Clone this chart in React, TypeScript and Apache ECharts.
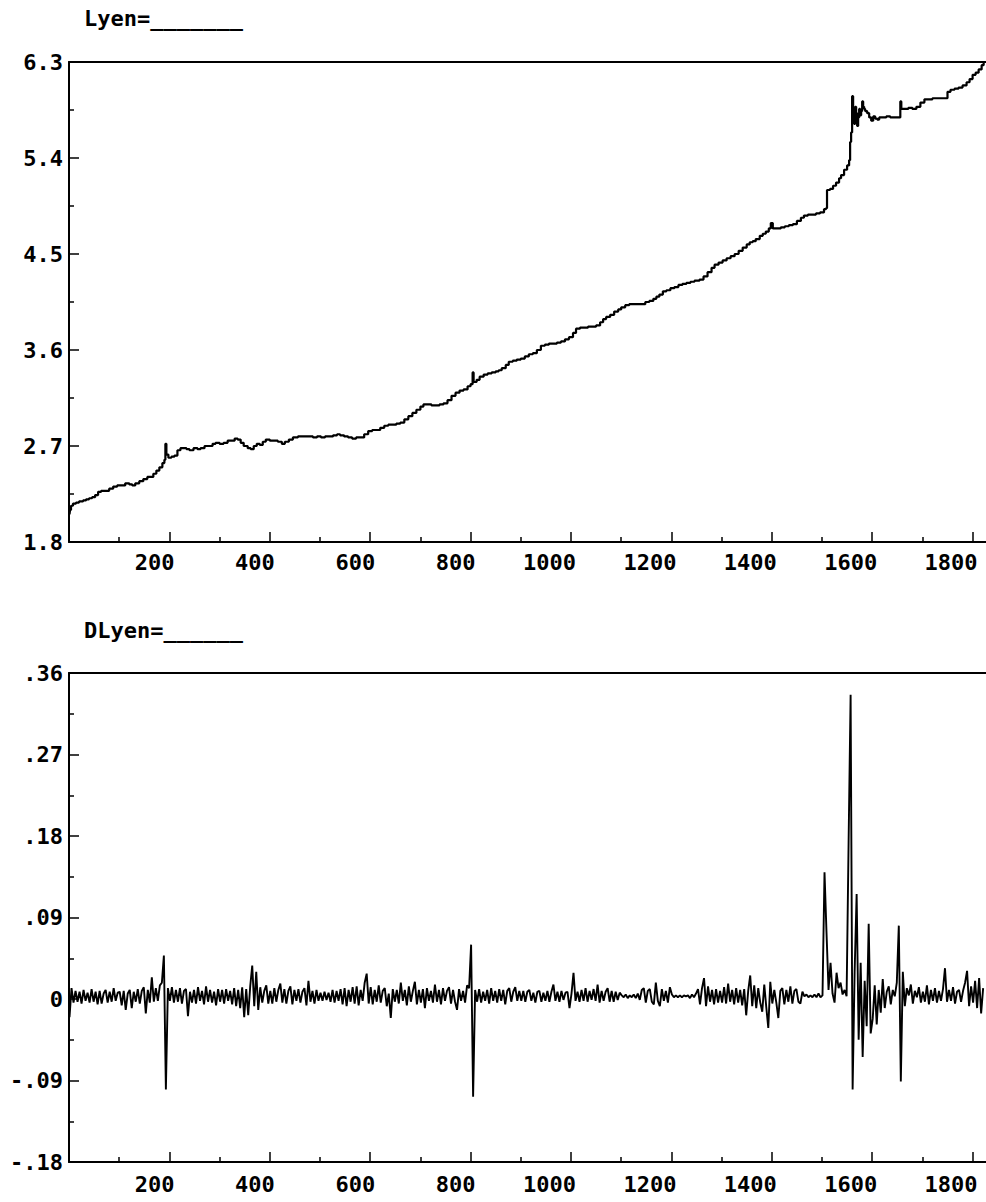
import React, { useEffect, useRef } from "react";
import * as echarts from "echarts";

// Lyen: level series, [observation, value]
const lyen: [number, number][] = [
  [1, 2.06], [2, 2.1], [4, 2.14], [8, 2.16], [14, 2.17], [20, 2.18], [28, 2.19], [34, 2.2],
  [40, 2.21], [46, 2.22], [52, 2.24], [58, 2.27], [64, 2.28], [72, 2.28], [80, 2.3], [88, 2.32],
  [96, 2.33], [104, 2.33], [112, 2.35], [120, 2.34], [126, 2.33], [132, 2.35], [140, 2.37],
  [148, 2.39], [156, 2.41], [162, 2.41], [168, 2.44], [174, 2.47], [180, 2.5], [186, 2.54],
  [190, 2.57], [192, 2.72], [194, 2.62], [198, 2.59], [204, 2.6], [210, 2.61], [216, 2.66],
  [222, 2.68], [228, 2.68], [234, 2.67], [240, 2.66], [248, 2.68], [256, 2.67], [262, 2.68],
  [270, 2.7], [278, 2.7], [286, 2.72], [292, 2.73], [300, 2.72], [308, 2.73], [316, 2.75],
  [324, 2.75], [330, 2.77], [336, 2.76], [342, 2.73], [348, 2.7], [356, 2.68], [362, 2.67],
  [368, 2.7], [374, 2.72], [380, 2.71], [386, 2.74], [392, 2.76], [400, 2.75], [408, 2.75],
  [416, 2.74], [424, 2.72], [430, 2.74], [438, 2.76], [446, 2.78], [456, 2.79], [466, 2.79],
  [476, 2.79], [486, 2.78], [494, 2.79], [502, 2.78], [510, 2.79], [518, 2.79], [526, 2.8],
  [534, 2.81], [540, 2.8], [548, 2.79], [556, 2.78], [564, 2.77], [572, 2.78], [580, 2.78],
  [588, 2.81], [596, 2.84], [604, 2.85], [612, 2.85], [620, 2.87], [628, 2.89], [636, 2.9],
  [644, 2.9], [652, 2.91], [660, 2.92], [668, 2.95], [676, 2.98], [684, 3.01], [692, 3.04],
  [700, 3.07], [706, 3.09], [714, 3.09], [722, 3.08], [730, 3.08], [738, 3.09], [746, 3.1],
  [754, 3.13], [762, 3.17], [770, 3.2], [778, 3.22], [786, 3.23], [794, 3.26], [800, 3.28],
  [804, 3.39], [806, 3.3], [812, 3.32], [818, 3.35], [826, 3.37], [834, 3.38], [842, 3.39],
  [850, 3.4], [856, 3.41], [862, 3.43], [870, 3.46], [876, 3.49], [884, 3.5], [892, 3.51],
  [900, 3.52], [908, 3.54], [916, 3.56], [924, 3.57], [932, 3.6], [940, 3.64], [948, 3.65],
  [956, 3.66], [964, 3.66], [972, 3.67], [980, 3.68], [988, 3.7], [996, 3.72], [1004, 3.76],
  [1010, 3.8], [1018, 3.81], [1026, 3.81], [1034, 3.82], [1042, 3.82], [1050, 3.83],
  [1058, 3.86], [1064, 3.89], [1070, 3.91], [1078, 3.93], [1086, 3.96], [1094, 3.98],
  [1100, 4.0], [1108, 4.02], [1116, 4.03], [1124, 4.03], [1132, 4.03], [1140, 4.03],
  [1148, 4.05], [1156, 4.06], [1164, 4.08], [1170, 4.1], [1176, 4.12], [1183, 4.15],
  [1190, 4.16], [1198, 4.18], [1206, 4.19], [1214, 4.21], [1222, 4.22], [1230, 4.23],
  [1238, 4.24], [1246, 4.25], [1256, 4.26], [1264, 4.29], [1272, 4.33], [1280, 4.37],
  [1286, 4.4], [1294, 4.42], [1302, 4.44], [1310, 4.46], [1318, 4.48], [1326, 4.5],
  [1334, 4.53], [1342, 4.56], [1350, 4.59], [1356, 4.61], [1362, 4.62], [1368, 4.64],
  [1376, 4.67], [1382, 4.69], [1388, 4.71], [1394, 4.74], [1398, 4.79], [1402, 4.74],
  [1410, 4.74], [1418, 4.75], [1426, 4.76], [1434, 4.77], [1442, 4.78], [1450, 4.81],
  [1458, 4.84], [1464, 4.86], [1472, 4.87], [1480, 4.87], [1488, 4.88], [1496, 4.89],
  [1504, 4.92], [1508, 4.93], [1510, 5.1], [1516, 5.11], [1522, 5.14], [1528, 5.17],
  [1534, 5.21], [1538, 5.24], [1544, 5.29], [1550, 5.33], [1554, 5.38], [1556, 5.55],
  [1558, 5.64], [1560, 5.98], [1562, 5.8], [1564, 5.72], [1566, 5.88], [1568, 5.82],
  [1570, 5.7], [1572, 5.78], [1574, 5.86], [1576, 5.8], [1578, 5.84], [1580, 5.93],
  [1582, 5.88], [1584, 5.86], [1586, 5.84], [1590, 5.82], [1594, 5.78], [1598, 5.75],
  [1602, 5.79], [1606, 5.77], [1610, 5.76], [1614, 5.78], [1620, 5.78], [1628, 5.79],
  [1636, 5.78], [1644, 5.78], [1652, 5.78], [1656, 5.93], [1658, 5.86], [1664, 5.86],
  [1672, 5.87], [1680, 5.86], [1688, 5.88], [1696, 5.92], [1704, 5.95], [1712, 5.95],
  [1720, 5.96], [1728, 5.96], [1736, 5.96], [1744, 5.96], [1750, 6.02], [1756, 6.04],
  [1764, 6.05], [1772, 6.06], [1780, 6.08], [1788, 6.11], [1794, 6.14], [1800, 6.18],
  [1806, 6.2], [1812, 6.23], [1818, 6.27], [1822, 6.3],
];

// DLyen: first differences, one value every DLYEN_STEP observations starting at DLYEN_FIRST
const DLYEN_FIRST = 1;
const DLYEN_STEP = 4;
const dlyen: number[] = [
  // 1 - 97
  -0.020, 0.012, -0.004, 0.009, -0.003, 0.008, -0.005, 0.010, -0.002, 0.007, -0.004, 0.011, -0.003,
  0.008, -0.006, 0.009, -0.005, 0.006, 0.010, -0.004, 0.008, -0.003, 0.012, -0.002, 0.007,
  // 101 - 197
  0.008, -0.007, 0.009, -0.012, 0.006, 0.010, -0.010, 0.008, -0.003, 0.011, -0.005, 0.009, 0.013,
  -0.016, 0.010, -0.004, 0.024, -0.003, 0.012, -0.002, 0.015, 0.018, 0.048, -0.100, 0.012,
  // 201 - 297
  -0.002, 0.013, -0.004, 0.010, -0.003, 0.012, -0.005, 0.009, 0.011, -0.019, 0.008, -0.004, 0.010,
  -0.005, 0.013, -0.002, 0.009, -0.006, 0.014, -0.003, 0.010, -0.004, 0.008, -0.007, 0.011,
  // 301 - 397
  -0.003, 0.010, -0.005, 0.011, -0.002, 0.009, -0.006, 0.012, -0.008, 0.010, -0.010, 0.013, -0.020,
  0.011, -0.018, 0.014, 0.037, -0.008, 0.030, -0.012, 0.013, -0.004, 0.009, 0.015, -0.005,
  // 401 - 497
  0.009, -0.005, 0.012, -0.003, 0.010, 0.017, -0.004, 0.011, -0.005, 0.009, 0.014, -0.006, 0.010,
  -0.002, 0.011, -0.004, 0.008, 0.012, -0.007, 0.020, -0.003, 0.009, -0.005, 0.010, -0.002,
  // 501 - 597
  0.007, -0.002, 0.008, -0.001, 0.007, -0.003, 0.010, -0.004, 0.009, -0.002, 0.011, -0.006, 0.012,
  -0.008, 0.010, -0.003, 0.013, -0.005, 0.014, -0.007, 0.010, -0.002, 0.018, 0.028, -0.005,
  // 601 - 697
  0.013, -0.006, 0.010, -0.003, 0.015, -0.004, 0.009, 0.012, -0.008, 0.006, -0.021, 0.011, -0.003,
  0.010, -0.005, 0.018, -0.002, 0.010, -0.007, 0.014, -0.003, 0.009, 0.019, -0.006, 0.010,
  // 701 - 797
  -0.004, 0.011, -0.010, 0.012, -0.002, 0.009, -0.004, 0.016, -0.003, 0.010, -0.006, 0.012, -0.002,
  0.009, 0.013, -0.005, 0.010, -0.003, -0.012, 0.011, -0.002, 0.009, -0.004, 0.015, 0.012,
  // 801 - 897
  0.060, -0.108, 0.010, -0.003, 0.011, -0.004, 0.008, -0.002, 0.010, -0.005, 0.012, -0.002, 0.009,
  -0.004, 0.011, -0.002, 0.010, -0.006, 0.009, 0.012, -0.003, 0.008, 0.013, -0.002, 0.009,
  // 901 - 997
  -0.002, 0.009, -0.003, 0.008, 0.010, -0.002, 0.007, -0.004, 0.008, 0.009, -0.003, 0.007, -0.002,
  0.009, -0.003, 0.008, 0.016, -0.002, 0.008, -0.003, 0.009, -0.001, 0.007, 0.008, -0.010,
  // 1001 - 1097
  0.006, 0.029, -0.002, 0.008, -0.003, 0.010, -0.002, 0.012, -0.003, 0.009, -0.001, 0.011, -0.002,
  0.016, -0.004, 0.009, -0.002, 0.008, 0.012, -0.003, 0.009, -0.003, 0.008, -0.001, 0.007,
  // 1101 - 1197
  0.004, 0.002, 0.005, 0.001, 0.004, 0.002, 0.005, 0.001, 0.006, -0.001, 0.010, 0.012, -0.004,
  0.009, 0.011, -0.003, -0.006, 0.018, -0.002, -0.008, 0.011, -0.002, 0.009, -0.004, 0.013,
  // 1201 - 1297
  0.005, 0.002, 0.004, 0.002, 0.004, 0.002, 0.004, 0.003, 0.004, 0.001, 0.005, 0.002, 0.006,
  0.011, -0.006, 0.012, 0.023, -0.008, 0.014, -0.003, 0.010, -0.006, 0.011, -0.004, 0.009,
  // 1301 - 1397
  -0.004, 0.013, -0.005, 0.017, -0.003, 0.010, -0.006, 0.012, -0.004, 0.010, -0.007, 0.011, -0.018,
  0.009, 0.026, -0.008, 0.015, -0.010, 0.012, -0.004, -0.014, 0.016, -0.009, -0.032, 0.019,
  // 1401 - 1497
  -0.005, 0.010, -0.004, -0.021, 0.009, 0.012, -0.006, 0.010, -0.003, 0.014, -0.005, 0.009, 0.011,
  -0.003, -0.005, 0.008, 0.003, 0.005, 0.002, 0.004, 0.002, 0.005, 0.002, 0.006, 0.002,
  // 1501 - 1597
  0.004, 0.140, 0.073, 0.010, 0.040, 0.006, -0.004, 0.029, 0.012, 0.018, 0.005, 0.010, 0.003,
  0.174, 0.336, -0.100, 0.030, 0.116, -0.045, 0.040, -0.064, 0.020, -0.030, 0.083, -0.038,
  // 1601 - 1697
  -0.022, 0.015, -0.028, 0.010, -0.015, 0.022, -0.010, 0.008, 0.014, -0.006, 0.010, 0.003, 0.018,
  0.081, -0.091, 0.030, -0.008, 0.012, 0.004, 0.016, -0.005, 0.009, 0.002, 0.013, -0.004,
  // 1701 - 1797
  0.008, -0.003, 0.015, -0.006, 0.010, -0.002, 0.012, -0.004, 0.009, -0.002, 0.011, 0.034, -0.003,
  0.010, -0.002, 0.013, -0.005, 0.008, 0.010, -0.003, 0.009, 0.018, 0.031, -0.008, 0.014,
  // 1801 - 1821
  -0.004, 0.020, -0.010, 0.023, -0.016, 0.012,
];

// The axis runs on past the page's right edge (the chart is wider than its frame),
// so the plot is cut off there with no right-hand border or end tick.
const X_MIN = 0;
const X_MAX = 2000;
const X_TICK = 200;
const LYEN_TICKS = { min: 1.8, max: 6.3, interval: 0.9 };
const DLYEN_TICKS = { min: -0.18, max: 0.36, interval: 0.09 };

const FRAME_W = 986;
const FRAME_H = 1202;
const CHART_W = 1100;

const FONT = "'DejaVu Sans Mono', 'Liberation Mono', monospace";
const INK = "#000";

const labelText = {
  fontFamily: FONT,
  fontWeight: "bold" as const,
  fontSize: 22,
  color: INK,
};

function bottomAxis(gridIndex: number, margin: number) {
  return {
    type: "value",
    gridIndex,
    min: X_MIN,
    max: X_MAX,
    interval: X_TICK,
    axisLine: { show: true, onZero: false, lineStyle: { color: INK, width: 2 } },
    axisTick: { show: true, inside: true, length: 10, lineStyle: { color: INK, width: 1.5 } },
    minorTick: { show: true, splitNumber: 2, length: 5, lineStyle: { color: INK, width: 1.5 } },
    splitLine: { show: false },
    minorSplitLine: { show: false },
    axisLabel: {
      ...labelText,
      margin,
      align: "right",
      padding: [0, -5, 0, 0],
      formatter: (v: number) => (v > 0 && v % X_TICK === 0 && v < X_MAX ? String(v) : ""),
    },
  };
}

function topBorder(gridIndex: number) {
  return {
    type: "value",
    gridIndex,
    position: "top",
    min: X_MIN,
    max: X_MAX,
    axisLine: { show: true, onZero: false, lineStyle: { color: INK, width: 2 } },
    axisTick: { show: false },
    axisLabel: { show: false },
    splitLine: { show: false },
  };
}

function leftAxis(
  gridIndex: number,
  ticks: { min: number; max: number; interval: number },
  formatter: (v: number) => string
) {
  return {
    type: "value",
    gridIndex,
    min: ticks.min,
    max: ticks.max,
    interval: ticks.interval,
    axisLine: { show: true, onZero: false, lineStyle: { color: INK, width: 2 } },
    axisTick: { show: true, inside: true, length: 10, lineStyle: { color: INK, width: 1.5 } },
    minorTick: { show: true, splitNumber: 2, length: 5, lineStyle: { color: INK, width: 1.5 } },
    splitLine: { show: false },
    minorSplitLine: { show: false },
    axisLabel: { ...labelText, margin: 6, formatter },
  };
}

// ".36", "-.09", "0"
const fmtDiff = (v: number) => {
  if (Math.abs(v) < 1e-9) return "0";
  return v.toFixed(2).replace(/^(-?)0\./, "$1.");
};

export default function App() {
  const ref = useRef<HTMLDivElement>(null);

  useEffect(() => {
    if (!ref.current) return;
    const chart = echarts.init(ref.current, undefined, { renderer: "svg" });

    const dlyenData = dlyen.map((v, i) => [DLYEN_FIRST + i * DLYEN_STEP, v]);

    chart.setOption({
      animation: false,
      backgroundColor: "#fff",
      title: [
        { text: "Lyen=_______", left: 84, top: 7, padding: 0, textStyle: { ...labelText } },
        { text: "DLyen=______", left: 84, top: 619, padding: 0, textStyle: { ...labelText } },
      ],
      grid: [
        { left: 69, right: 27, top: 62, height: 480 },
        { left: 69, right: 27, top: 673, height: 489 },
      ],
      xAxis: [bottomAxis(0, 9), topBorder(0), bottomAxis(1, 11), topBorder(1)],
      yAxis: [
        leftAxis(0, LYEN_TICKS, (v: number) => v.toFixed(1)),
        leftAxis(1, DLYEN_TICKS, fmtDiff),
      ],
      series: [
        {
          name: "Lyen",
          type: "line",
          xAxisIndex: 0,
          yAxisIndex: 0,
          data: lyen,
          step: "end",
          showSymbol: false,
          symbol: "none",
          lineStyle: { color: INK, width: 2.2 },
        },
        {
          name: "DLyen",
          type: "line",
          xAxisIndex: 2,
          yAxisIndex: 1,
          data: dlyenData,
          showSymbol: false,
          symbol: "none",
          lineStyle: { color: INK, width: 1.9 },
        },
      ],
    });

    return () => chart.dispose();
  }, []);

  return (
    <div
      style={{
        position: "absolute",
        left: 0,
        top: 0,
        width: FRAME_W,
        height: FRAME_H,
        overflow: "hidden",
        background: "#fff",
      }}
    >
      <div ref={ref} style={{ width: CHART_W, height: FRAME_H }} />
    </div>
  );
}
